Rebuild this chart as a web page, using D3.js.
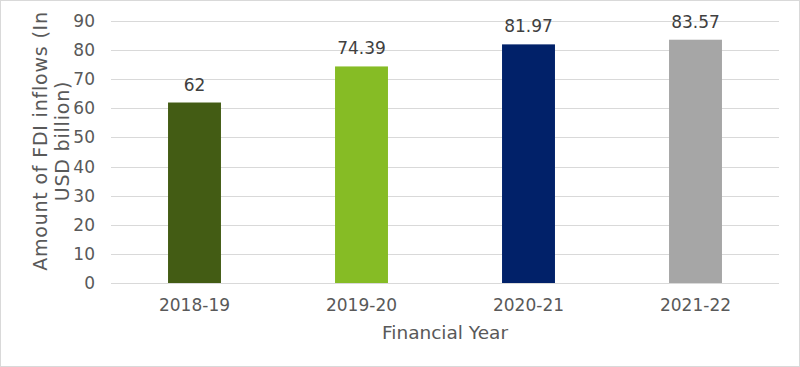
<!DOCTYPE html>
<html>
<head>
<meta charset="utf-8">
<script src="https://cdn.jsdelivr.net/npm/d3@7"></script>
<style>
  body { margin: 0; background: #fff; }
  svg { display: block; font-family: "DejaVu Sans", Verdana, sans-serif; }
</style>
</head>
<body>
<svg id="chart"></svg>
<script>
// data
var years = ["2018-19", "2019-20", "2020-21", "2021-22"];
var fdi = [62, 74.39, 81.97, 83.57];
var labels = ["62", "74.39", "81.97", "83.57"];
var colors = ["#435c14", "#86bc25", "#012169", "#a6a6a6"];
var yTicks = [0, 10, 20, 30, 40, 50, 60, 70, 80, 90];

var W = 800, H = 367;
var margin = {top: 21, right: 21, bottom: 84, left: 111},
    width = W - margin.left - margin.right,
    height = H - margin.top - margin.bottom;

var svg = d3.select("#chart").attr("width", W).attr("height", H);

// outer frame
svg.append("rect")
    .attr("x", 0.5).attr("y", 0.5)
    .attr("width", W - 1).attr("height", H - 1)
    .attr("fill", "#fff").attr("stroke", "#d9d9d9");

var g = svg.append("g")
    .attr("transform", "translate(" + margin.left + "," + margin.top + ")");

var x = d3.scaleBand().domain(years).range([0, width]).paddingInner(0.683).paddingOuter(0.3415);
var y = d3.scaleLinear().domain([0, 90]).range([height, 0]);

// gridlines
g.append("g")
    .selectAll("line")
    .data(yTicks)
  .enter().append("line")
    .attr("x1", 0).attr("x2", width)
    .attr("y1", function(d) { return Math.round(y(d)) + 0.5; })
    .attr("y2", function(d) { return Math.round(y(d)) + 0.5; })
    .attr("stroke", "#d9d9d9").attr("stroke-width", 1);

// y axis labels
var yAxis = g.append("g")
    .call(d3.axisLeft(y).tickValues(yTicks).tickSize(0).tickPadding(16));
yAxis.select(".domain").remove();
yAxis.selectAll("text")
    .attr("fill", "#595959").style("font-size", "17px").style("font-family", "DejaVu Sans, Verdana, sans-serif");

// bars
g.selectAll(".bar")
    .data(years)
  .enter().append("rect")
    .attr("class", "bar")
    .attr("x", function(d) { return x(d); })
    .attr("width", x.bandwidth())
    .attr("y", function(d, i) { return y(fdi[i]); })
    .attr("height", function(d, i) { return height - y(fdi[i]); })
    .attr("fill", function(d, i) { return colors[i]; });

// value labels
g.selectAll(".val")
    .data(years)
  .enter().append("text")
    .attr("class", "val")
    .attr("x", function(d) { return x(d) + x.bandwidth() / 2; })
    .attr("y", function(d, i) { return y(fdi[i]) - 12; })
    .attr("text-anchor", "middle")
    .attr("fill", "#404040")
    .style("font-size", "17px")
    .text(function(d, i) { return labels[i]; });

// x axis labels
var xAxis = g.append("g")
    .attr("transform", "translate(0," + height + ")")
    .call(d3.axisBottom(x).tickSize(0).tickPadding(16));
xAxis.select(".domain").remove();
xAxis.selectAll("text")
    .attr("fill", "#595959").style("font-size", "17px").style("font-family", "DejaVu Sans, Verdana, sans-serif");

// axis titles
svg.append("text")
    .attr("x", margin.left + width / 2)
    .attr("y", 339)
    .attr("text-anchor", "middle")
    .attr("fill", "#595959")
    .style("font-size", "18.5px")
    .text("Financial Year");

var yt = svg.append("text")
    .attr("transform", "translate(47,141) rotate(-90)")
    .attr("text-anchor", "middle")
    .attr("fill", "#595959")
    .style("font-size", "19px")
    .style("letter-spacing", "0.8px");
yt.append("tspan").attr("x", 0).attr("dy", 0).text("Amount of FDI inflows (In");
yt.append("tspan").attr("x", 0).attr("dy", 22).text("USD billion)");
</script>
</body>
</html>
